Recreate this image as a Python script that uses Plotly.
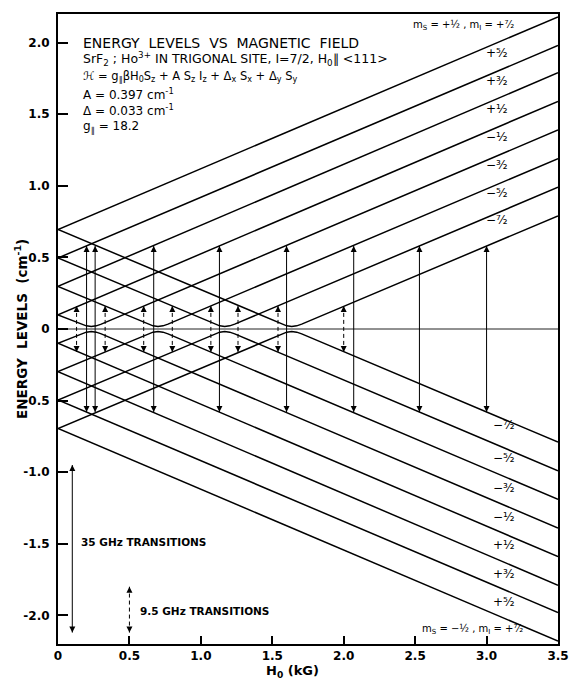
import plotly.graph_objects as go

# ---------------- data ----------------
H_SPAN = [0.0, 3.5]                      # kG, ends of every level line

# straight levels (no anticrossing inside 0..3.5 kG), E in cm^-1
straight_mI = ["+7/2", "+5/2", "+3/2", "+1/2"]
up_left = [0.695, 0.496, 0.298, 0.099]        # m_S=+1/2 at H=0
up_right = [2.18, 1.98, 1.79, 1.59]           # m_S=+1/2 at H=3.5
down_left = [-0.695, -0.496, -0.298, -0.099]  # m_S=-1/2 at H=0
down_right = [-2.18, -1.98, -1.79, -1.59]     # m_S=-1/2 at H=3.5

# levels that repel each other near E=0 (m_I = -1/2 ... -7/2)
mixed_mI = ["-1/2", "-3/2", "-5/2", "-7/2"]
mixed_left = [0.099, 0.298, 0.496, 0.695]     # upper branch at H=0
mixed_H0 = [0.233, 0.700, 1.167, 1.636]       # anticrossing fields (kG)
mixed_right = [1.39, 1.19, 0.99, 0.79]        # upper branch at H=3.5
bend_dH = [-0.07, -0.035, 0.0, 0.035, 0.07]   # offsets around anticrossing
bend_E = [0.034, 0.022, 0.017, 0.022, 0.034]  # |E| of the branch there

# 35 GHz transitions (solid arrows)
solid_H = [0.20, 0.26, 0.67, 1.13, 1.60, 2.07, 2.53, 3.00]
solid_top = [0.58, 0.58, 0.58, 0.58, 0.58, 0.58, 0.58, 0.58]
solid_bot = [-0.58, -0.58, -0.58, -0.58, -0.58, -0.58, -0.58, -0.58]
# 9.5 GHz transitions (dashed arrows)
dash_H = [0.13, 0.33, 0.60, 0.80, 1.07, 1.26, 1.54, 2.00]
dash_top = [0.16, 0.16, 0.16, 0.16, 0.16, 0.16, 0.16, 0.16]
dash_bot = [-0.16, -0.16, -0.16, -0.16, -0.16, -0.16, -0.16, -0.16]

# key arrows
key_solid = dict(H=0.10, top=-0.95, bot=-2.12)
key_dash = dict(H=0.50, top=-1.80, bot=-2.12)

# right-hand labels
top_label_text = ["+⁵⁄₂", "+³⁄₂", "+¹⁄₂", "−¹⁄₂", "−³⁄₂", "−⁵⁄₂", "−⁷⁄₂"]
top_label_y = [1.93, 1.73, 1.54, 1.34, 1.145, 0.95, 0.76]
bot_label_text = ["−⁷⁄₂", "−⁵⁄₂", "−³⁄₂", "−¹⁄₂", "+¹⁄₂", "+³⁄₂", "+⁵⁄₂"]
bot_label_y = [-0.67, -0.90, -1.11, -1.31, -1.51, -1.71, -1.91]

x_ticks = [0, 0.5, 1.0, 1.5, 2.0, 2.5, 3.0, 3.5]
x_ticktext = ["0", "0.5", "1.0", "1.5", "2.0", "2.5", "3.0", "3.5"]
y_ticks = [2.0, 1.5, 1.0, 0.5, 0, -0.5, -1.0, -1.5, -2.0]
y_ticktext = ["2.0", "1.5", "1.0", "0.5", "0", "-0.5", "-1.0", "-1.5", "-2.0"]

# ---------------- figure ----------------
FONT = "DejaVu Sans"
LW = 1.5
fig = go.Figure()

def line(x, y, width=LW, dash="solid", color="black"):
    fig.add_trace(go.Scatter(x=x, y=y, mode="lines", hoverinfo="skip",
                             showlegend=False,
                             line=dict(color=color, width=width, dash=dash)))

# zero line
line(H_SPAN, [0, 0], width=1, color="#222")

for a, b in zip(up_left, up_right):
    line(H_SPAN, [a, b])
for a, b in zip(down_left, down_right):
    line(H_SPAN, [a, b])
for a, h0, b in zip(mixed_left, mixed_H0, mixed_right):
    xs = [H_SPAN[0]] + [h0 + d for d in bend_dH] + [H_SPAN[1]]
    ys = [a] + bend_E + [b]
    line(xs, ys)
    line(xs, [-v for v in ys])

def double_arrow(h, top, bot, dash="solid"):
    line([h, h], [bot, top], width=1, dash=dash)
    fig.add_trace(go.Scatter(
        x=[h, h], y=[top, bot], mode="markers", hoverinfo="skip",
        showlegend=False,
        marker=dict(symbol=["arrow-up", "arrow-down"], size=6,
                    color="black", line=dict(width=0))))

for h, t, b in zip(solid_H, solid_top, solid_bot):
    double_arrow(h, t, b)
double_arrow(key_solid["H"], key_solid["top"], key_solid["bot"])
for h, t, b in zip(dash_H, dash_top, dash_bot):
    double_arrow(h, t, b, dash="4px,3px")
double_arrow(key_dash["H"], key_dash["top"], key_dash["bot"], dash="4px,3px")

ann = []

def text(x, y, s, size=11, xanchor="left", weight="normal", **kw):
    ann.append(dict(x=x, y=y, xref="x", yref="y", text=s, showarrow=False,
                    xanchor=xanchor, yanchor="middle",
                    font=dict(family=FONT, size=size, color="black",
                              weight=weight), **kw))

# title block
tx = 0.16
text(tx, 2.00, "ENERGY  LEVELS  VS  MAGNETIC  FIELD", size=14)
text(tx, 1.885, "SrF<sub>2</sub> ; Ho<sup>3+</sup> IN TRIGONAL SITE, I=7/2, H<sub>0</sub>∥ &lt;111&gt;", size=12.5)
text(tx, 1.767, "ℋ = g<sub>∥</sub>βH<sub>0</sub>S<sub>z</sub> + A S<sub>z</sub> I<sub>z</sub> + Δ<sub>x</sub> S<sub>x</sub> + Δ<sub>y</sub> S<sub>y</sub>", size=11.5)
text(tx, 1.64, "A = 0.397 cm<sup>-1</sup>", size=12)
text(tx, 1.53, "Δ = 0.033 cm<sup>-1</sup>", size=12)
text(tx, 1.41, "g<sub>∥</sub> = 18.2", size=12)

# right labels
text(2.84, 2.12, "m<sub>S</sub> = +½ , m<sub>I</sub> = +⁷⁄₂", size=10, xanchor="center")
for s, y in zip(top_label_text, top_label_y):
    text(3.07, y, s, size=12, xanchor="center")
for s, y in zip(bot_label_text, bot_label_y):
    text(3.12, y, s, size=12, xanchor="center")
text(2.90, -2.10, "m<sub>S</sub> = −½ , m<sub>I</sub> = +⁷⁄₂", size=10, xanchor="center")

# key texts
text(0.145, -1.49, "35 GHz TRANSITIONS", size=10.5, weight="bold")
text(0.557, -1.97, "9.5 GHz TRANSITIONS", size=10.5, weight="bold")

# axis titles
ann.append(dict(x=-0.074, y=0.50, xref="paper", yref="paper",
                text="ENERGY  LEVELS  (cm<sup>-1</sup>)", textangle=-90,
                showarrow=False, xanchor="center", yanchor="middle",
                font=dict(family=FONT, size=13.5, color="black", weight="bold")))
ann.append(dict(x=0.468, y=-0.044, xref="paper", yref="paper",
                text="H<sub>0</sub> (kG)", showarrow=False,
                xanchor="center", yanchor="middle",
                font=dict(family=FONT, size=13, color="black", weight="bold")))

axis_common = dict(showgrid=False, zeroline=False, showline=True, mirror=True,
                   linecolor="black", linewidth=2, ticks="inside",
                   tickcolor="black", tickwidth=1.5,
                   tickfont=dict(family=FONT, size=12, color="black",
                                 weight="bold"))

fig.update_layout(
    width=579, height=681,
    margin=dict(l=58, r=10, t=14, b=37),
    paper_bgcolor="white", plot_bgcolor="white",
    xaxis=dict(range=[0, 3.5], tickvals=x_ticks, ticktext=x_ticktext,
               ticklen=8, **axis_common),
    yaxis=dict(range=[-2.2, 2.2], tickvals=y_ticks, ticktext=y_ticktext,
               ticklen=10, ticklabelstandoff=4, **axis_common),
    annotations=ann,
)

fig.write_html("out.html")
